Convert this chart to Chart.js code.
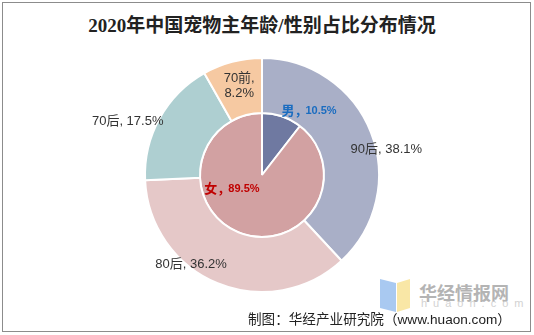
<!DOCTYPE html>
<html>
<head>
<meta charset="UTF-8">
<title>2020年中国宠物主年龄/性别占比分布情况</title>
<script src="https://cdn.jsdelivr.net/npm/chart.js@4.4.0/dist/chart.umd.min.js"></script>
<style>
  body { margin: 0; background: #fff; }
  #box { position: relative; width: 534px; height: 335px; overflow: hidden; }
  #frame { position: absolute; left: 2px; top: 2px; width: 527px; height: 328px; border: 1px solid #8c8c8c; }
  #title { position: absolute; left: 0; width: 524px; top: 10px; text-align: center;
           font: bold 19px "Liberation Serif", "Noto Sans CJK SC", serif; color: #222; }
  #grafica { position: absolute; left: 0; top: 0; }
  #logo-b { position: absolute; left: 380px; top: 279px; width: 16px; height: 33px; background: #a9c9f1;
            clip-path: polygon(0 0, 100% 12%, 100% 100%, 0 88%); }
  #logo-y { position: absolute; left: 397px; top: 279px; width: 13px; height: 33px; background: #f9e7a6;
            clip-path: polygon(0 12%, 100% 0, 100% 88%, 0 100%); }
  #logo-t { position: absolute; left: 419px; top: 279px; font: bold 18px "Noto Sans CJK SC", sans-serif; color: #b4b4b4; }
  #logo-u { position: absolute; left: 421px; top: 297px; font: 11px "Liberation Sans", sans-serif; color: #d2d2d2; letter-spacing: 6px; }
  #foot { position: absolute; left: 248px; top: 308px; font: 13.6px "Liberation Sans", "Noto Sans CJK SC", sans-serif; color: #222; }
</style>
</head>
<body>
<div id="box">
  <div id="frame"></div>
  <div id="title">2020年中国宠物主年龄/性别占比分布情况</div>
  <div id="logo-b"></div>
  <div id="logo-y"></div>
  <div id="logo-t">华经情报网</div>
  <div id="logo-u">huaon.com</div>
  <canvas id="grafica" width="534" height="335"></canvas>
  <div id="foot">制图：华经产业研究院（www.huaon.com）</div>
</div>

<script type="text/javascript">
// 年龄（外环）
var edades = ["90后", "80后", "70后", "70前"];
var edadValores = [38.1, 36.2, 17.5, 8.2];
var edadColores = ["#a9afc7", "#e5c8c8", "#aecfd1", "#f6c9a2"];
// 性别（内圈）
var generos = ["男", "女"];
var generoValores = [10.5, 89.5];
var generoColores = ["#6f79a1", "#d2a1a2"];

// label offsets from slice centroid (px)
var edadOffsets = [[41, 7], [-37, 7], [-56, -10], [0, -3]];
var generoOffsets = [[38, -36], [-19, -16]];
var generoTextColor = ["#1a6cc0", "#c00000"];

var etiquetas = {
  id: "etiquetas",
  afterDatasetsDraw: function (chart) {
    var ctx = chart.ctx;
    ctx.save();
    ctx.textAlign = "center";
    ctx.textBaseline = "middle";

    var m0 = chart.getDatasetMeta(0);
    m0.data.forEach(function (arc, k) {
      var p = arc.tooltipPosition();
      var x = p.x + edadOffsets[k][0], y = p.y + edadOffsets[k][1];
      ctx.fillStyle = "#333";
      ctx.font = '13px "Liberation Sans", "Noto Sans CJK SC", sans-serif';
      if (edades[k] == "70前") {
        ctx.fillText(edades[k] + ",", x, y - 7.5);
        ctx.fillText(edadValores[k].toFixed(1) + "%", x, y + 7.5);
      } else {
        ctx.fillText(edades[k] + ", " + edadValores[k].toFixed(1) + "%", x, y);
      }
    });

    var m1 = chart.getDatasetMeta(1);
    m1.data.forEach(function (arc, k) {
      var p = arc.tooltipPosition();
      var x = p.x + generoOffsets[k][0], y = p.y + generoOffsets[k][1];
      ctx.fillStyle = generoTextColor[k];
      var a = generos[k] + "，";
      ctx.font = 'bold 13px "Noto Sans CJK SC", sans-serif';
      var wa = ctx.measureText(a).width;
      ctx.font = 'bold 11px "Liberation Sans", sans-serif';
      var b = generoValores[k].toFixed(1) + "%";
      var wb = ctx.measureText(b).width;
      var x0 = x - (wa + wb) / 2;
      ctx.textAlign = "left";
      ctx.font = 'bold 13px "Noto Sans CJK SC", sans-serif';
      ctx.fillText(a, x0, y);
      ctx.font = 'bold 11px "Liberation Sans", sans-serif';
      ctx.fillText(b, x0 + wa - 2, y + 1);
      ctx.textAlign = "center";
    });
    ctx.restore();
  }
};

var miCanvas = document.getElementById("grafica").getContext("2d");
var chart = new Chart(miCanvas, {
  type: "doughnut",
  data: {
    labels: edades,
    datasets: [
      { data: edadValores, backgroundColor: edadColores, borderColor: "#fff", borderWidth: 2, weight: 55 },
      { data: generoValores, backgroundColor: generoColores, borderColor: "#fff", borderWidth: 2, weight: 62 }
    ]
  },
  options: {
    responsive: false,
    animation: false,
    cutout: 0,
    layout: { padding: { left: 144, right: 154, top: 57, bottom: 42 } },
    plugins: { legend: { display: false }, tooltip: { enabled: false } }
  },
  plugins: [etiquetas]
});
</script>
</body>
</html>
